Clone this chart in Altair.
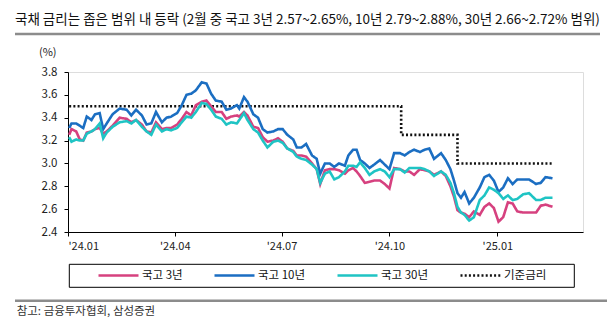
import altair as alt
import pandas as pd

# ---------------- data ----------------
title_text = "국채 금리는 좁은 범위 내 등락 (2월 중 국고 3년 2.57~2.65%, 10년 2.79~2.88%, 30년 2.66~2.72% 범위)"
source_text = "참고: 금융투자협회, 삼성증권"
y_unit = "(%)"

dates = [
    "2024-01-02", "2024-01-04", "2024-01-08", "2024-01-11", "2024-01-14", "2024-01-17", "2024-01-21", "2024-01-24", "2024-01-28", "2024-01-31",
    "2024-02-03", "2024-02-08", "2024-02-14", "2024-02-20", "2024-02-24", "2024-02-28", "2024-03-04", "2024-03-08", "2024-03-12", "2024-03-16",
    "2024-03-21", "2024-03-25", "2024-03-29", "2024-04-03", "2024-04-07", "2024-04-11", "2024-04-15", "2024-04-19", "2024-04-24", "2024-04-28",
    "2024-05-02", "2024-05-06", "2024-05-11", "2024-05-15", "2024-05-19", "2024-05-24", "2024-05-26", "2024-05-30", "2024-06-02", "2024-06-07",
    "2024-06-11", "2024-06-15", "2024-06-19", "2024-06-24", "2024-06-28", "2024-07-02", "2024-07-06", "2024-07-11",
    "2024-07-14", "2024-07-18", "2024-07-22", "2024-07-27", "2024-07-31", "2024-08-03", "2024-08-07", "2024-08-11", "2024-08-15", "2024-08-19",
    "2024-08-24", "2024-08-27", "2024-08-31", "2024-09-03", "2024-09-06", "2024-09-10", "2024-09-14", "2024-09-18", "2024-09-23", "2024-09-27",
    "2024-10-01", "2024-10-05", "2024-10-10", "2024-10-14", "2024-10-18", "2024-10-22", "2024-10-27", "2024-10-31", "2024-11-04", "2024-11-08",
    "2024-11-14", "2024-11-18", "2024-11-22", "2024-11-25", "2024-11-28", "2024-12-01", "2024-12-04", "2024-12-08", "2024-12-12", "2024-12-17",
    "2024-12-21", "2024-12-25", "2024-12-29", "2025-01-02", "2025-01-06", "2025-01-10", "2025-01-14", "2025-01-18", "2025-01-23", "2025-01-28",
    "2025-02-03", "2025-02-07", "2025-02-11", "2025-02-17",
]

ktb3 = [
    3.25, 3.30, 3.28, 3.21, 3.20, 3.27, 3.28, 3.30, 3.31, 3.26,
    3.28, 3.33, 3.40, 3.39, 3.36, 3.38, 3.34, 3.28, 3.27, 3.36,
    3.30, 3.31, 3.31, 3.34, 3.39, 3.45, 3.42, 3.51, 3.54, 3.55,
    3.50, 3.45, 3.45, 3.39, 3.41, 3.42, 3.41, 3.45, 3.42, 3.32,
    3.31, 3.23, 3.19, 3.20, 3.22, 3.19, 3.13, 3.11,
    3.07, 3.07, 3.06, 3.00, 2.95, 2.82, 2.94, 2.95, 2.95, 2.94,
    2.91, 2.94, 2.96, 2.93, 2.89, 2.83, 2.84, 2.85, 2.85, 2.82,
    2.78, 2.96, 2.95, 2.93, 2.93, 2.90, 2.95, 2.94, 2.93, 2.90,
    2.93, 2.89, 2.80, 2.71, 2.59, 2.57, 2.56, 2.53, 2.58, 2.55,
    2.62, 2.65, 2.61, 2.49, 2.53, 2.66, 2.65, 2.58, 2.57, 2.57,
    2.57, 2.63, 2.64, 2.62,
]

ktb10 = [
    3.31, 3.35, 3.35, 3.33, 3.31, 3.41, 3.38, 3.43, 3.44, 3.30,
    3.35, 3.43, 3.48, 3.47, 3.42, 3.47, 3.42, 3.34, 3.35, 3.45,
    3.36, 3.40, 3.41, 3.44, 3.51, 3.60, 3.61, 3.64, 3.71, 3.70,
    3.61, 3.55, 3.54, 3.47, 3.48, 3.51, 3.48, 3.58, 3.54, 3.43,
    3.40, 3.30, 3.27, 3.28, 3.30, 3.30, 3.25, 3.21,
    3.14, 3.14, 3.17, 3.07, 3.04, 2.91, 3.00, 3.00, 2.97, 3.00,
    2.98, 3.07, 3.12, 3.12, 3.03, 3.00, 2.96, 2.99, 3.03, 2.99,
    2.95, 3.09, 3.09, 3.07, 3.10, 3.12, 3.10, 3.12, 3.13, 3.04,
    3.09, 3.03, 2.95, 2.85, 2.74, 2.70, 2.75, 2.65, 2.70, 2.79,
    2.88, 2.90, 2.85, 2.75, 2.79, 2.87, 2.82, 2.86, 2.86, 2.86,
    2.82, 2.83, 2.88, 2.87,
]

ktb30 = [
    3.23, 3.19, 3.21, 3.20, 3.20, 3.26, 3.28, 3.30, 3.35, 3.22,
    3.27, 3.32, 3.36, 3.37, 3.35, 3.38, 3.32, 3.28, 3.25, 3.34,
    3.28, 3.30, 3.29, 3.31, 3.36, 3.41, 3.40, 3.45, 3.53, 3.52,
    3.47, 3.41, 3.39, 3.34, 3.36, 3.35, 3.38, 3.44, 3.38, 3.30,
    3.27, 3.20, 3.14, 3.19, 3.20, 3.18, 3.13, 3.10,
    3.06, 3.04, 3.03, 2.99, 2.95, 2.83, 2.91, 2.93, 2.86, 2.88,
    2.93, 2.98, 2.98, 2.97, 3.01, 2.96, 2.90, 2.93, 2.95, 2.93,
    2.88, 2.95, 2.95, 2.92, 2.96, 2.96, 2.96, 2.95, 2.93, 2.89,
    2.93, 2.90, 2.83, 2.74, 2.62, 2.57, 2.55, 2.50, 2.53, 2.68,
    2.72, 2.79, 2.77, 2.74, 2.69, 2.72, 2.68, 2.69, 2.73, 2.74,
    2.68, 2.68, 2.70, 2.70,
]

base_dates = ["2024-01-02", "2024-10-11", "2024-11-28", "2025-02-17"]
base_rate = [3.50, 3.25, 3.00, 3.00]

series_names = ["국고 3년", "국고 10년", "국고 30년", "기준금리"]
series_colors = ["#d6417f", "#1b6ec2", "#1fc4c4", "#111111"]

y_ticks = [2.4, 2.6, 2.8, 3.0, 3.2, 3.4, 3.6, 3.8]
x_ticks = [(2024, 1), (2024, 4), (2024, 7), (2024, 10), (2025, 1)]

# ---------------- tables ----------------
rows = []
for name, vals in zip(series_names[:3], [ktb3, ktb10, ktb30]):
    for d, v in zip(dates, vals):
        rows.append({"date": d, "value": v, "series": name})
bond_df = pd.DataFrame(rows)
base_df = pd.DataFrame({"date": base_dates, "value": base_rate, "series": series_names[3]})
deco_df = pd.DataFrame({"k": [0]})

FONT = "Noto Sans CJK KR"

legend = alt.Legend(
    title=None, orient="none", legendX=29, legendY=182, direction="horizontal",
    symbolType="stroke", symbolSize=1600, symbolStrokeWidth=3.2,
    labelFont=FONT, labelFontSize=11.5, labelColor="#111111", labelOffset=2,
    columnPadding=26, padding=0,
)

x_enc = alt.X(
    "date:T",
    scale=alt.Scale(domain=[alt.DateTime(year=2024, month=1, date=1),
                            alt.DateTime(year=2025, month=3, date=15)]),
    axis=alt.Axis(
        values=[alt.DateTime(year=y, month=m, date=1) for y, m in x_ticks],
        format="'%y.%m", title=None, grid=False, tickSize=4, labelPadding=4,
        labelFont=FONT, labelFontSize=11, labelColor="#222222",
        domainColor="#000000", tickColor="#000000",
    ),
)
y_enc = alt.Y(
    "value:Q",
    scale=alt.Scale(domain=[2.4, 3.8], zero=False, nice=False),
    axis=alt.Axis(
        values=y_ticks, format=".1f", grid=False, tickSize=4, labelPadding=7,
        labelFont=FONT, labelFontSize=11.5, labelColor="#222222",
        domainColor="#000000", tickColor="#000000",
        title=y_unit, titleAngle=0, titleAlign="right", titleBaseline="middle",
        titleX=-12, titleY=-20, titleFont=FONT, titleFontSize=11,
        titleFontWeight="normal", titleColor="#222222",
    ),
)
color_enc = alt.Color("series:N", scale=alt.Scale(domain=series_names, range=series_colors), legend=legend)
dash_enc = alt.StrokeDash(
    "series:N",
    scale=alt.Scale(domain=series_names, range=[[1, 0], [1, 0], [1, 0], [2, 2.2]]),
    legend=legend,
)
width_enc = alt.StrokeWidth(
    "series:N", scale=alt.Scale(domain=series_names, range=[2.6, 2.6, 2.6, 2.0]), legend=None
)

base_line = alt.Chart(base_df).mark_line(interpolate="step-after").encode(
    x=x_enc, y=y_enc, color=color_enc, strokeDash=dash_enc, strokeWidth=width_enc
)
bond_lines = alt.Chart(bond_df).mark_line().encode(
    x=x_enc, y=y_enc, color=color_enc, strokeDash=dash_enc, strokeWidth=width_enc,
    detail="series:N",
)

title_mark = alt.Chart(deco_df).mark_text(
    align="left", baseline="middle", font=FONT, fontSize=13.5, color="#111111"
).encode(x=alt.value(-53), y=alt.value(-52.5), text=alt.value(title_text))

title_rule = alt.Chart(deco_df).mark_rule(color="#8c8c8c", strokeWidth=2.5).encode(
    x=alt.value(-53), x2=alt.value(532), y=alt.value(-38)
)

legend_box = alt.Chart(deco_df).mark_rect(
    fillOpacity=0, stroke="#000000", strokeWidth=1
).encode(x=alt.value(1.3), x2=alt.value(506.3), y=alt.value(192.3), y2=alt.value(215.3))

bottom_rule = alt.Chart(deco_df).mark_rule(color="#8c8c8c", strokeWidth=2.5).encode(
    x=alt.value(-53), x2=alt.value(539), y=alt.value(228.7)
)

source_mark = alt.Chart(deco_df).mark_text(
    align="left", baseline="middle", font=FONT, fontSize=11.5, color="#333333"
).encode(x=alt.value(-51.3), y=alt.value(240), text=alt.value(source_text))

chart = alt.layer(
    base_line, bond_lines, title_mark, title_rule, legend_box, bottom_rule, source_mark
).properties(
    width=515, height=160,
    padding={"left": 68, "top": 72, "right": 24, "bottom": 93},
    autosize=alt.AutoSizeParams(type="none"),
).configure_view(strokeWidth=0).configure(background="white")

chart.save("out.html", embed_options={"renderer": "svg", "actions": False})
